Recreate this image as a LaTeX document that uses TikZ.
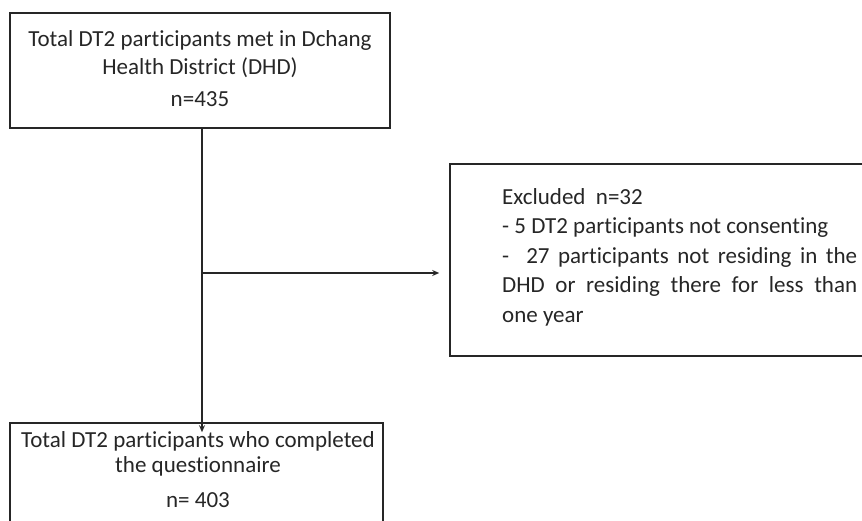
\documentclass[tikz,border=0pt]{standalone}
\usepackage{fontspec}
\setmainfont[Ligatures=NoCommon]{Carlito}
\usetikzlibrary{arrows.meta}
\begin{document}
\begin{tikzpicture}[x=1pt,y=-1pt,
  box/.style={draw=black!85, line width=1.6pt, rectangle, inner sep=0pt},
  txt/.style={anchor=base, inner sep=0pt, font=\fontsize{23}{26}\selectfont, text=black!85},
  conn/.style={line width=1.5pt, draw=black!85},
  arr/.style={conn, -{Stealth[length=7pt,width=6pt]}}]
\useasboundingbox (0,0) rectangle (862,521);
\clip (0,0) rectangle (862,521);
% boxes
\node[box, minimum width=380pt, minimum height=115pt] (top) at (200,70.5) {};
\node[box, minimum width=430pt, minimum height=192pt] (excl) at (665,260) {};
\node[box, minimum width=373pt, minimum height=130pt] (bot) at (196.5,488) {};
% top text
\node[txt] (t1) at (200,47) {Total DT2 participants met in Dchang};
\node[txt] (t2) at (200,75) {Health District (DHD)};
\node[txt] (t3) at (200,107) {n=435};
% bottom text
\node[txt] (b1) at (198,447) {Total DT2 participants who completed};
\node[txt] (b2) at (198,472) {the questionnaire};
\node[txt] (b3) at (198,507) {n= 403};
% exclusion text
\node[anchor=north west, inner sep=0pt, font=\fontsize{23}{29.5}\selectfont, text=black!85, text width=355pt, align=justify] (e) at (502,188)
{Excluded\ \ n=32\\
- 5 DT2 participants not consenting\\
-\ \ 27 participants not residing in the DHD or residing there for less than\linebreak one year};
% connectors
\coordinate (j) at (202,273);
\draw[arr] (top.south -| j) -- ([yshift=-10pt]bot.north -| j);
\draw[arr, shorten >=10pt] (j) -- (excl.west |- j);
\end{tikzpicture}
\end{document}
